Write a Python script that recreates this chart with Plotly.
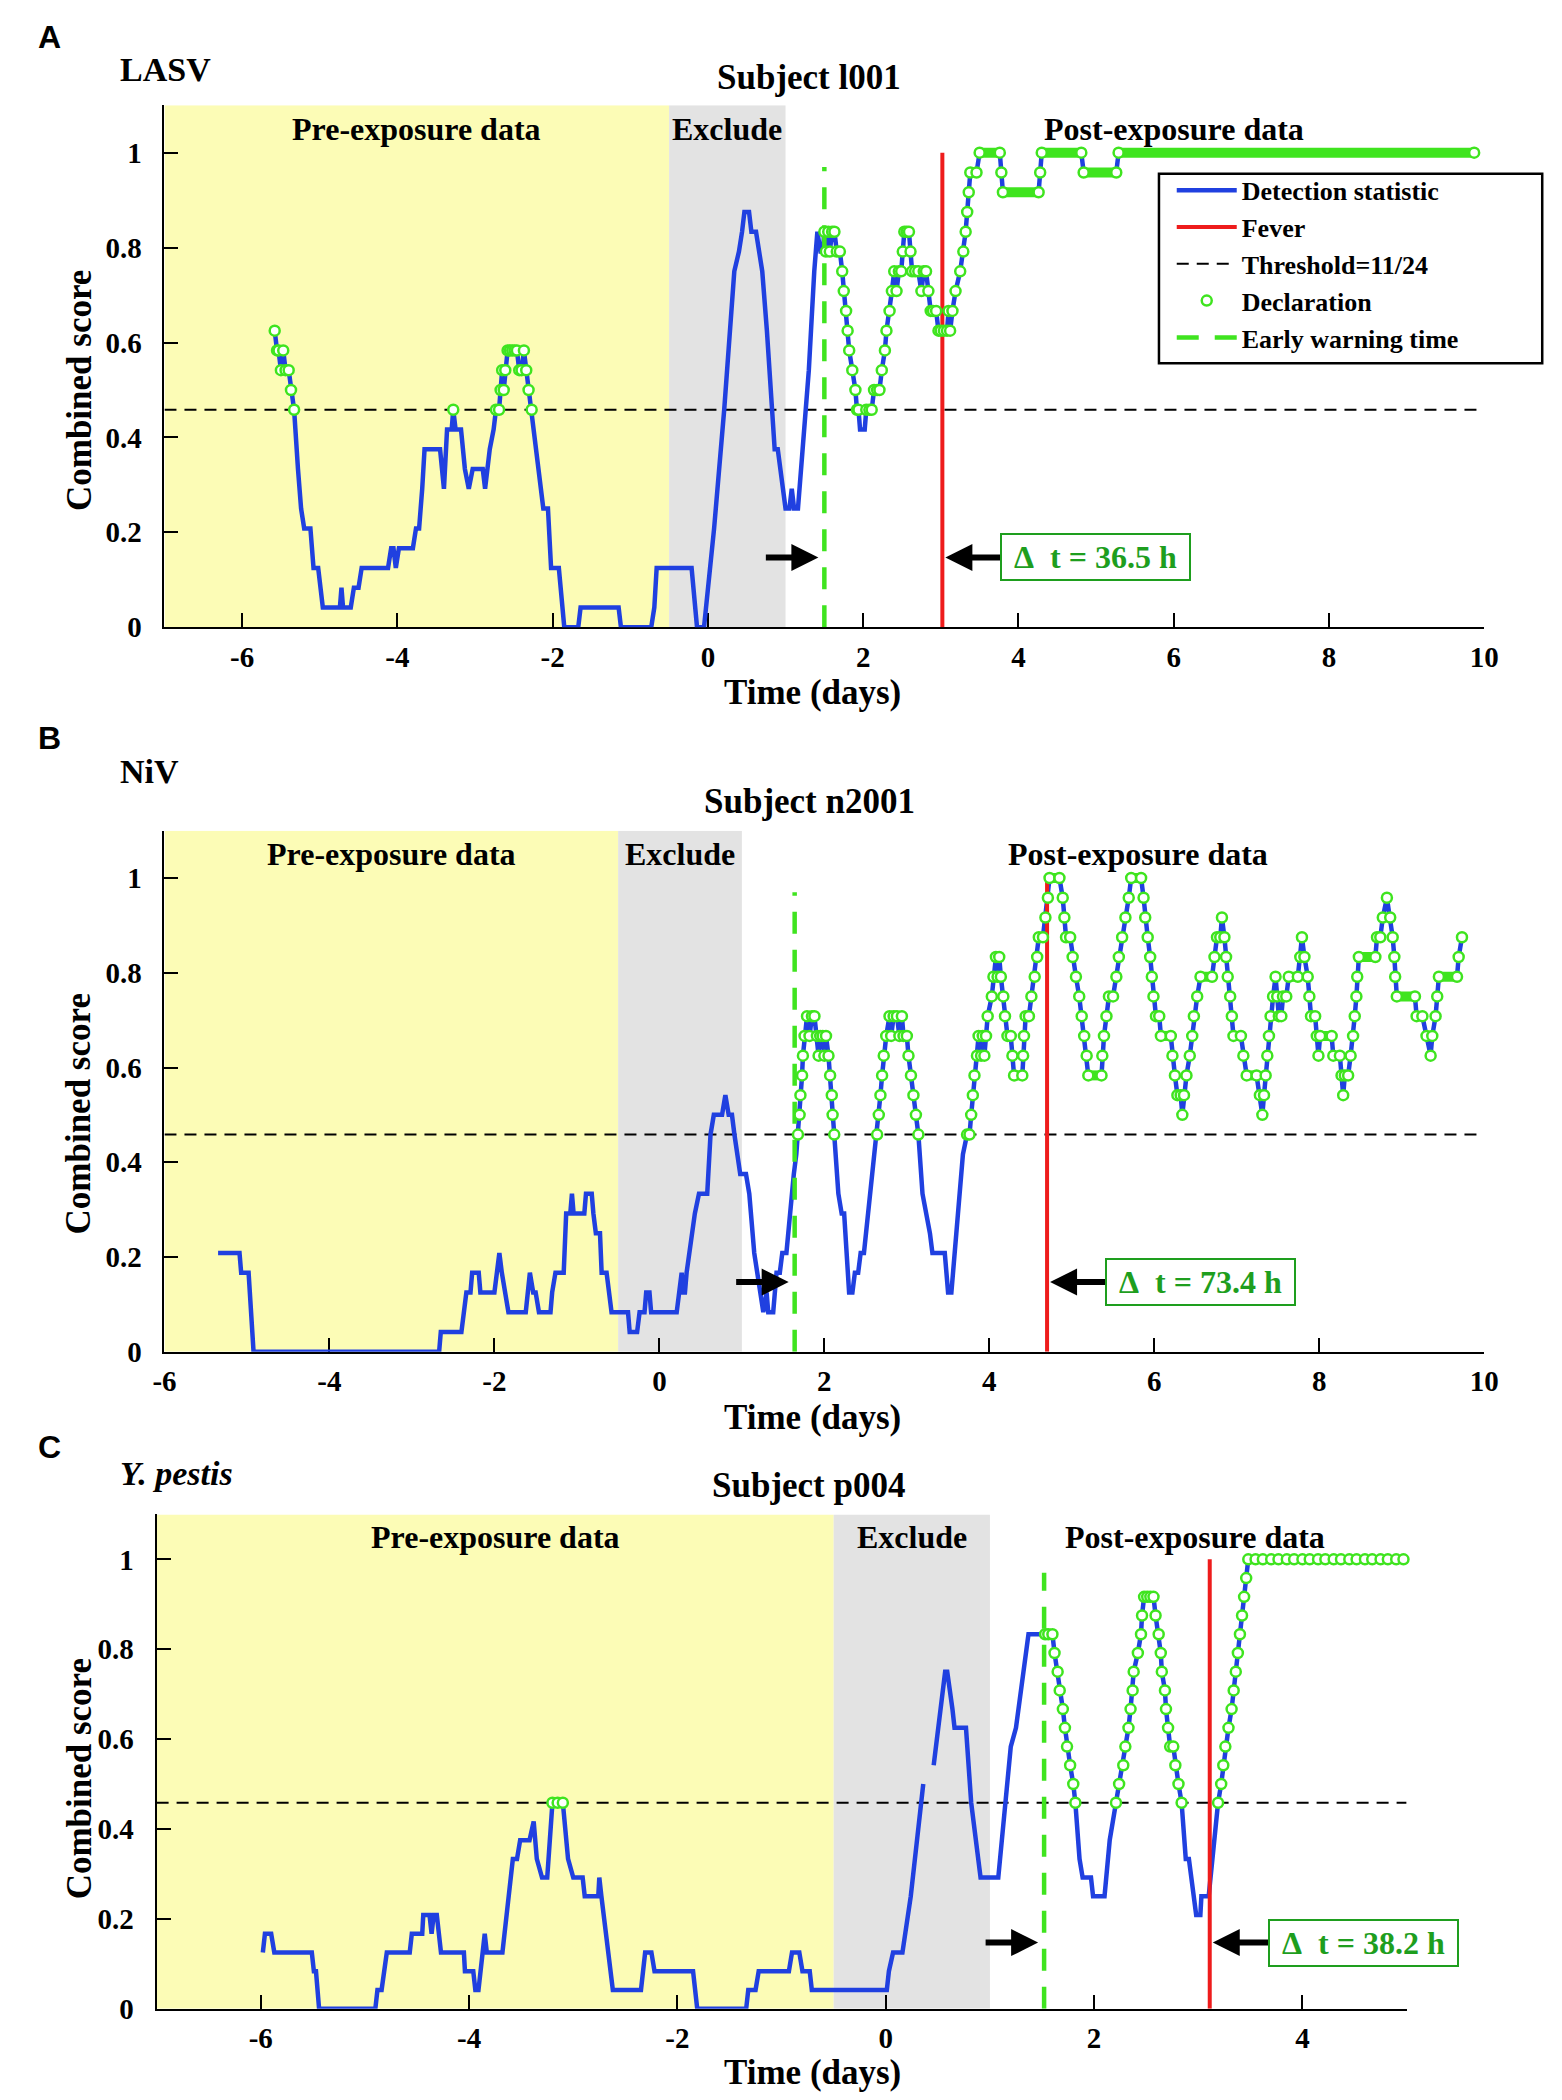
import plotly.graph_objects as go

THRESHOLD_LEVEL = 11  # declaration threshold, in 24ths

# ---- Panel A: LASV, subject l001 (time in days, score in 24ths) ----
a_time = [
    -5.58, -5.55, -5.53, -5.50, -5.47, -5.44, -5.40, -5.37, -5.33, -5.28,
    -5.24, -5.20, -5.12, -5.08, -5.02, -4.96, -4.74, -4.72, -4.70, -4.60,
    -4.56, -4.50, -4.46, -4.12, -4.08, -4.05, -4.02, -3.98, -3.80, -3.76,
    -3.72, -3.68, -3.65, -3.45, -3.40, -3.36, -3.30, -3.28, -3.25, -3.18,
    -3.13, -3.08, -3.03, -2.90, -2.87, -2.84, -2.81, -2.76, -2.73, -2.69,
    -2.67, -2.65, -2.63, -2.61, -2.58, -2.55, -2.52, -2.49, -2.46, -2.43,
    -2.40, -2.37, -2.34, -2.31, -2.27, -2.22, -2.15, -2.12, -2.06, -2.02,
    -1.92, -1.85, -1.67, -1.64, -1.15, -1.12, -0.73, -0.69, -0.66, -0.21,
    -0.14, -0.05, 0.08, 0.21, 0.34, 0.40, 0.44, 0.47, 0.53, 0.56,
    0.62, 0.66, 0.70, 0.76, 0.82, 0.86, 0.90, 0.93, 0.96, 1.00,
    1.05, 1.08, 1.11, 1.16, 1.22, 1.30, 1.37, 1.41, 1.45, 1.48,
    1.50, 1.52, 1.55, 1.57, 1.60, 1.63, 1.66, 1.70, 1.73, 1.75,
    1.78, 1.80, 1.82, 1.86, 1.90, 1.92, 1.94, 1.96, 2.02, 2.04,
    2.08, 2.11, 2.14, 2.18, 2.21, 2.24, 2.28, 2.30, 2.34, 2.37,
    2.40, 2.43, 2.46, 2.49, 2.51, 2.53, 2.56, 2.59, 2.61, 2.63,
    2.67, 2.71, 2.75, 2.78, 2.81, 2.84, 2.87, 2.90, 2.94, 2.97,
    3.00, 3.04, 3.08, 3.10, 3.12, 3.15, 3.19, 3.25, 3.29, 3.32,
    3.34, 3.36, 3.38, 3.46, 3.50, 3.76, 3.78, 3.80, 4.26, 4.28,
    4.30, 4.81, 4.84, 5.26, 5.29, 9.87,
]
a_level = [
    15, 14, 14, 13, 14, 13, 13, 12, 11, 8,
    6, 5, 5, 3, 3, 1, 1, 2, 1, 1,
    2, 2, 3, 3, 4, 4, 3, 4, 4, 5,
    5, 7, 9, 9, 7, 10, 10, 11, 10, 10,
    8, 7, 8, 8, 7, 8, 9, 10, 11, 11,
    12, 13, 12, 13, 14, 14, 14, 14, 14, 13,
    13, 14, 13, 12, 11, 9, 7, 6, 6, 3,
    3, 0, 0, 1, 1, 0, 0, 1, 3, 3,
    0, 0, 5, 11, 18, 19, 20, 21, 21, 20,
    20, 19, 18, 15, 11, 9, 9, 8, 7, 6,
    6, 7, 6, 6, 9, 13, 18, 20, 19, 19,
    20, 19, 20, 19, 20, 20, 19, 19, 18, 17,
    16, 15, 14, 13, 12, 11, 11, 10, 10, 11,
    11, 11, 12, 12, 12, 13, 14, 15, 16, 17,
    18, 17, 18, 18, 19, 20, 20, 20, 19, 18,
    18, 18, 17, 18, 18, 17, 16, 16, 16, 15,
    15, 15, 15, 16, 15, 16, 17, 18, 19, 20,
    21, 22, 23, 23, 24, 24, 23, 22, 22, 23,
    24, 24, 23, 23, 24, 24,
]

# ---- Panel B: NiV, subject n2001 ----
b_time = [
    -5.35, -5.09, -5.07, -4.98, -4.92, -2.67, -2.65, -2.40, -2.37, -2.34,
    -2.29, -2.27, -2.19, -2.17, -2.00, -1.97, -1.94, -1.91, -1.87, -1.83,
    -1.62, -1.60, -1.57, -1.53, -1.50, -1.46, -1.32, -1.30, -1.26, -1.16,
    -1.13, -1.08, -1.06, -1.04, -0.91, -0.89, -0.82, -0.80, -0.77, -0.72,
    -0.70, -0.64, -0.58, -0.38, -0.36, -0.27, -0.24, -0.18, -0.16, -0.12,
    -0.10, 0.21, 0.24, 0.27, 0.29, 0.31, 0.33, 0.36, 0.40, 0.43,
    0.48, 0.58, 0.62, 0.66, 0.76, 0.80, 0.84, 0.88, 0.91, 0.95,
    0.98, 1.05, 1.09, 1.15, 1.22, 1.26, 1.30, 1.32, 1.38, 1.42,
    1.46, 1.49, 1.54, 1.58, 1.63, 1.66,
    1.68, 1.70, 1.71, 1.73, 1.74, 1.76, 1.79, 1.82, 1.85, 1.88,
    1.91, 1.93, 1.95, 1.98, 2.00, 2.02, 2.05, 2.07, 2.09, 2.10,
    2.12, 2.17, 2.21, 2.24, 2.27, 2.30, 2.34, 2.37, 2.41, 2.44,
    2.48, 2.56, 2.64, 2.66, 2.68, 2.70, 2.72, 2.75, 2.79, 2.81,
    2.84, 2.88, 2.91, 2.94, 2.96, 3.00, 3.02, 3.05, 3.08, 3.11,
    3.14, 3.19, 3.24, 3.28, 3.31, 3.46, 3.50, 3.54, 3.60, 3.68,
    3.73, 3.76, 3.78, 3.80, 3.82, 3.85, 3.87, 3.90, 3.92, 3.94,
    3.96, 3.98, 4.03, 4.05, 4.08, 4.10, 4.12, 4.14, 4.17, 4.19,
    4.22, 4.26, 4.28, 4.30, 4.40, 4.41, 4.42, 4.44, 4.48, 4.51,
    4.55, 4.58, 4.60, 4.65, 4.68, 4.71, 4.73, 4.85, 4.89, 4.91,
    4.93, 4.98, 5.01, 5.05, 5.09, 5.12, 5.15, 5.18, 5.20, 5.36,
    5.37, 5.39, 5.42, 5.45, 5.50, 5.54, 5.57, 5.61, 5.65, 5.69,
    5.72, 5.84, 5.87, 5.89, 5.92, 5.95, 5.97, 5.99, 6.02, 6.06,
    6.08, 6.20, 6.22, 6.25, 6.28, 6.32, 6.34, 6.36, 6.39, 6.43,
    6.46, 6.48, 6.52, 6.56, 6.70, 6.73, 6.76, 6.80, 6.82, 6.85,
    6.87, 6.89, 6.92, 6.94, 6.96, 7.05, 7.08, 7.12, 7.24, 7.28,
    7.31, 7.33, 7.35, 7.37, 7.39, 7.41, 7.44, 7.47, 7.49, 7.51,
    7.54, 7.56, 7.60, 7.63, 7.74, 7.77, 7.79, 7.82, 7.86, 7.88,
    7.90, 7.95, 7.97, 7.99, 8.01, 8.15, 8.17, 8.25, 8.27, 8.29,
    8.31, 8.35, 8.38, 8.41, 8.43, 8.45, 8.46, 8.48, 8.68, 8.70,
    8.74, 8.77, 8.82, 8.86, 8.89, 8.91, 8.92, 8.94, 9.16, 9.18,
    9.25, 9.30, 9.35, 9.37, 9.41, 9.43, 9.45, 9.67, 9.69, 9.73,
]
b_level = [
    5, 5, 4, 4, 0, 0, 1, 1, 2, 3,
    3, 4, 4, 3, 3, 4, 5, 4, 3, 2,
    2, 3, 4, 3, 3, 2, 2, 3, 4, 4,
    7, 7, 8, 7, 7, 8, 8, 7, 6, 6,
    4, 4, 2, 2, 1, 1, 2, 2, 3, 3,
    2, 2, 3, 4, 3, 3, 4, 5, 6, 7,
    8, 8, 11, 12, 12, 13, 12, 12, 11, 10,
    9, 9, 8, 5, 3, 2, 3, 2, 2, 4,
    4, 5, 5, 7, 9, 10,
    11, 12, 13, 14, 15, 16, 17, 16, 17, 17,
    16, 15, 16, 16, 15, 16, 15, 14, 13, 12,
    11, 8, 7, 7, 5, 3, 3, 4, 4, 5,
    5, 8, 11, 12, 13, 14, 15, 16, 17, 16,
    17, 17, 16, 17, 16, 16, 15, 14, 13, 12,
    11, 8, 7, 6, 5, 5, 3, 3, 6, 10,
    11, 11, 12, 13, 14, 15, 16, 15, 16, 15,
    16, 17, 18, 19, 20, 19, 20, 19, 18, 17,
    16, 16, 15, 14, 14, 15, 16, 17, 17, 18,
    19, 20, 21, 21, 22, 23, 24, 24, 23, 22,
    21, 21, 20, 19, 18, 17, 16, 15, 14, 14,
    15, 16, 17, 18, 18, 19, 20, 21, 22, 23,
    24, 24, 23, 22, 21, 20, 19, 18, 17, 17,
    16, 16, 15, 14, 13, 13, 12, 13, 14, 15,
    16, 17, 18, 19, 19, 20, 21, 21, 22, 21,
    20, 19, 18, 17, 16, 16, 15, 14, 14, 13,
    12, 13, 14, 15, 16, 17, 18, 19, 18, 17,
    17, 18, 18, 19, 19, 20, 21, 20, 19, 18,
    17, 17, 16, 15, 16, 16, 15, 15, 14, 13,
    14, 14, 15, 16, 17, 18, 19, 20, 20, 21,
    21, 22, 23, 22, 21, 20, 19, 18, 18, 17,
    17, 16, 15, 16, 17, 18, 19, 19, 20, 21,
]

# ---- Panel C: Y. pestis, subject p004 (None = missing data) ----
c_time = [
    -5.98, -5.96, -5.90, -5.87, -5.51, -5.49, -5.47, -5.44, -4.90, -4.88,
    -4.84, -4.79, -4.57, -4.55, -4.45, -4.44, -4.38, -4.36, -4.34, -4.31,
    -4.27, -4.05, -4.04, -3.96, -3.94, -3.91, -3.85, -3.83, -3.68, -3.64,
    -3.58, -3.54, -3.51, -3.42, -3.38, -3.35, -3.30, -3.25, -3.20, -3.15,
    -3.10, -3.05, -3.00, -2.91, -2.89, -2.76, -2.75, -2.73, -2.67, -2.62,
    -2.35, -2.31, -2.25, -2.22, -1.85, -1.81, -1.34, -1.32, -1.25, -1.22,
    -0.93, -0.90, -0.83, -0.80, -0.73, -0.71, 0.01, 0.03, 0.07, 0.16,
    0.24, 0.30, 0.33, 0.36, 0.41, 0.46, 0.52, 0.57, 0.59, 0.62,
    0.64, 0.66, 0.77, 0.82, 0.88, 0.91, 1.08, 1.15, 1.20, 1.25,
    1.37, 1.45, 1.49, 1.53, 1.56, 1.60, 1.62, 1.65, 1.67, 1.70,
    1.72, 1.74, 1.77, 1.80, 1.82, 1.86, 1.89, 1.97, 1.99, 2.10,
    2.15, 2.18, 2.21, 2.24, 2.28, 2.30, 2.33, 2.35, 2.37, 2.38,
    2.42, 2.45, 2.46, 2.48, 2.51, 2.54, 2.57, 2.59, 2.62, 2.64,
    2.65, 2.68, 2.69, 2.71, 2.73, 2.76, 2.78, 2.81, 2.84, 2.88,
    2.91, 2.95, 2.98, 3.02, 3.03, 3.10, 3.15, 3.19, 3.22, 3.24,
    3.26, 3.29, 3.32, 3.34, 3.36, 3.38, 3.40, 3.42, 3.44, 3.46,
    3.48, 3.55, 3.62, 3.70, 3.77, 3.85, 3.92, 4.00, 4.07, 4.15,
    4.22, 4.30, 4.37, 4.45, 4.52, 4.60, 4.67, 4.75, 4.82, 4.90,
    4.97,
]
c_level = [
    3, 4, 4, 3, 3, 2, 2, 0, 0, 1,
    1, 3, 3, 4, 4, 5, 5, 4, 5, 5,
    3, 3, 2, 2, 1, 1, 4, 3, 3, 5,
    8, 8, 9, 9, 10, 8, 7, 7, 11, 11,
    11, 8, 7, 7, 6, 6, 7, 6, 3, 1,
    1, 3, 3, 2, 2, 0, 0, 1, 1, 2,
    2, 3, 3, 2, 2, 1, 1, 2, 3, 3,
    6, 9, 11, 12, None, 13, 16, 18, 18, 17,
    16, 15, 15, 11, 8, 7, 7, 11, 14, 15,
    20, 20, 20, 20, 20, 20, 19, 18, 17, 16,
    15, 14, 13, 12, 11, 8, 7, 7, 6, 6,
    9, 10, 11, 12, 13, 14, 15, 16, 17, 18,
    19, 20, 21, 22, 22, 22, 22, 21, 20, 19,
    18, 17, 16, 15, 14, 14, 13, 12, 11, 8,
    8, 6, 5, 5, 6, 6, 9, 11, 12, 13,
    14, 15, 16, 17, 18, 19, 20, 21, 22, 23,
    24, 24, 24, 24, 24, 24, 24, 24, 24, 24,
    24, 24, 24, 24, 24, 24, 24, 24, 24, 24,
    24,
]

# ---- per-panel annotations ----
letters = ["A", "B", "C"]
agents = ["<b>LASV</b>", "<b>NiV</b>", "<b><i>Y. pestis</i></b>"]
subjects = ["Subject l001", "Subject n2001", "Subject p004"]
fever_day = [3.02, 4.70, 3.11]
warning_day = [1.50, 1.64, 1.52]
delta_hours = ["36.5", "73.4", "38.2"]
x_ranges = [(-7, 10), (-6, 10), (-7, 5)]
x_ticks = [[-6, -4, -2, 0, 2, 4, 6, 8, 10], [-6, -4, -2, 0, 2, 4, 6, 8, 10], [-6, -4, -2, 0, 2, 4]]
y_ticks = [0, 0.2, 0.4, 0.6, 0.8, 1]
y_tick_text = ["0", "0.2", "0.4", "0.6", "0.8", "1"]
exclude_window = (-0.5, 1.0)
post_label_x = [6.0, 5.8, 2.97]
solid_runs = [True, True, False]

times = [a_time, b_time, c_time]
levels = [a_level, b_level, c_level]

# ---- layout geometry (pixels) ----
W, H = 1562, 2100
plot_px = [(147, 1490, 98, 624), (147, 1490, 829, 1354), (139, 1411, 1518, 2016)]
letter_y = [29, 736, 1450]
agent_y = [62, 769, 1477]
title_y = [70, 800, 1489]
xlabel_y = [690, 1420, 2080]
ylabel_y = [385, 1114, 1784]
legend_box = (1159, 1549, 167, 358)

SERIF = "Liberation Serif, Times New Roman, serif"
SANS = "Liberation Sans, Arial, sans-serif"
BLUE = "#2040e0"
GREEN = "#3fe41f"
DARK_GREEN = "#1e9e1e"
RED = "#ee1c1c"
YELLOW = "#fcfcb6"
GREY = "#e3e3e3"
NB = "\u00a0"

fig = go.Figure()
annotations = []
shapes = []


def paper_text(text, x, y, size, family=SERIF, xanchor="center", angle=0):
    return dict(text=text, x=x / W, y=1 - y / H, xref="paper", yref="paper",
                showarrow=False, xanchor=xanchor, yanchor="middle", textangle=angle,
                font=dict(family=family, size=size, color="black"))


for i in range(3):
    k = "" if i == 0 else str(i + 1)
    xa, ya = "x" + k, "y" + k
    first = i == 0
    t, lv = times[i], levels[i]
    score = [None if v is None else v / 24 for v in lv]
    xr = x_ranges[i]
    warn, fever = warning_day[i], fever_day[i]

    # threshold
    fig.add_trace(go.Scatter(
        x=list(xr), y=[THRESHOLD_LEVEL / 24] * 2, mode="lines",
        line=dict(color="black", width=2, dash="12px,8px"),
        name="Threshold=11/24", legendrank=3, showlegend=first,
        xaxis=xa, yaxis=ya, hoverinfo="skip"))
    # detection statistic
    fig.add_trace(go.Scatter(
        x=t, y=score, mode="lines", connectgaps=False,
        line=dict(color=BLUE, width=4.5),
        name="Detection statistic", legendrank=1, showlegend=first,
        xaxis=xa, yaxis=ya))
    # fever onset
    fig.add_trace(go.Scatter(
        x=[fever, fever], y=[0, 1], mode="lines",
        line=dict(color=RED, width=4),
        name="Fever", legendrank=2, showlegend=first,
        xaxis=xa, yaxis=ya, hoverinfo="skip"))
    # early warning
    fig.add_trace(go.Scatter(
        x=[warn, warn], y=[0, 0.97], mode="lines",
        line=dict(color=GREEN, width=4.5, dash="22px,16px"),
        name="Early warning time", legendrank=5, showlegend=first,
        xaxis=xa, yaxis=ya, hoverinfo="skip"))

    # declarations: above threshold, outside the excluded stretch
    declared = []
    for j, v in enumerate(lv):
        if v is None or v < THRESHOLD_LEVEL:
            continue
        if exclude_window[0] <= t[j] < warn - 0.015:
            continue
        declared.append(j)

    if solid_runs[i]:
        bx, by = [], []
        dset = set(declared)
        for j in declared:
            if j + 1 in dset and lv[j + 1] == lv[j]:
                bx += [t[j], t[j + 1], None]
                by += [score[j], score[j + 1], None]
        fig.add_trace(go.Scatter(
            x=bx, y=by, mode="lines", line=dict(color=GREEN, width=10),
            showlegend=False, xaxis=xa, yaxis=ya, hoverinfo="skip"))

    fig.add_trace(go.Scatter(
        x=[t[j] for j in declared], y=[score[j] for j in declared],
        mode="markers", cliponaxis=False,
        marker=dict(symbol="circle", size=10, color="white",
                    line=dict(color=GREEN, width=2.5)),
        name="Declaration", legendrank=4, showlegend=first,
        xaxis=xa, yaxis=ya))

    x0, x1, y0, y1 = plot_px[i]
    tick_font = dict(family=SERIF, size=29, color="black", weight="bold")
    fig.layout["xaxis" + k] = dict(
        domain=[x0 / W, x1 / W], range=list(xr), anchor=ya,
        tickvals=x_ticks[i], ticktext=[str(v) for v in x_ticks[i]],
        ticks="inside", ticklen=14, tickwidth=2, tickcolor="black",
        showline=True, linecolor="black", linewidth=2,
        showgrid=False, zeroline=False, tickfont=tick_font,
        ticklabelstandoff=3, layer="below traces")
    fig.layout["yaxis" + k] = dict(
        domain=[1 - y1 / H, 1 - y0 / H], range=[0, 1.1], anchor=xa,
        tickvals=y_ticks, ticktext=y_tick_text,
        ticks="inside", ticklen=14, tickwidth=2, tickcolor="black",
        showline=True, linecolor="black", linewidth=2,
        showgrid=False, zeroline=False, tickfont=tick_font,
        ticklabelstandoff=15, layer="below traces")

    # shaded periods
    shapes.append(dict(type="rect", xref=xa, yref=ya, x0=xr[0], x1=exclude_window[0],
                       y0=0, y1=1.1, fillcolor=YELLOW, line=dict(width=0), layer="below"))
    shapes.append(dict(type="rect", xref=xa, yref=ya, x0=exclude_window[0],
                       x1=exclude_window[1], y0=0, y1=1.1, fillcolor=GREY,
                       line=dict(width=0), layer="below"))

    region_font = dict(family=SERIF, size=32, color="black")
    for label, lx in [("Pre-exposure data", (xr[0] + exclude_window[0]) / 2),
                      ("Exclude", sum(exclude_window) / 2),
                      ("Post-exposure data", post_label_x[i])]:
        annotations.append(dict(text="<b>%s</b>" % label, x=lx, y=1.05, xref=xa, yref=ya,
                                showarrow=False, yanchor="middle", font=region_font))

    # early warning gain
    annotations.append(dict(text="", x=warn, y=0.147, xref=xa, yref=ya,
                            ax=-60, ay=0, showarrow=True, arrowhead=2, arrowsize=0.9,
                            arrowwidth=6, arrowcolor="black", standoff=6))
    annotations.append(dict(text="", x=fever, y=0.147, xref=xa, yref=ya,
                            ax=60, ay=0, showarrow=True, arrowhead=2, arrowsize=0.9,
                            arrowwidth=6, arrowcolor="black", standoff=3))
    annotations.append(dict(text="<b>%s\u0394%s t = %s h%s</b>" % (NB, NB, delta_hours[i], NB),
                            x=fever, y=0.147, xref=xa, yref=ya, xshift=58,
                            xanchor="left", yanchor="middle", showarrow=False,
                            bordercolor=DARK_GREEN, borderwidth=2, borderpad=4,
                            bgcolor="white",
                            font=dict(family=SERIF, size=32, color=DARK_GREEN)))

    annotations.append(paper_text("<b>%s</b>" % letters[i], 16, letter_y[i], 32,
                                  family=SANS, xanchor="left"))
    annotations.append(paper_text(agents[i], 100, agent_y[i], 34, xanchor="left"))
    annotations.append(paper_text("<b>%s</b>" % subjects[i], 803, title_y[i], 35))
    annotations.append(paper_text("<b>Time (days)</b>", 806, xlabel_y[i], 35))
    annotations.append(paper_text("<b>Combined score</b>", 60, ylabel_y[i], 35, angle=-90))

# legend frame (the reference box is wider than its entries)
lx0, lx1, ly0, ly1 = legend_box
shapes.append(dict(type="rect", xref="paper", yref="paper",
                   x0=lx0 / W, x1=lx1 / W, y0=1 - ly1 / H, y1=1 - ly0 / H,
                   fillcolor="white", line=dict(color="black", width=2.5), layer="above"))

fig.update_layout(
    width=W, height=H,
    margin=dict(l=0, r=0, t=0, b=0),
    paper_bgcolor="white", plot_bgcolor="white",
    shapes=shapes, annotations=annotations,
    legend=dict(x=1172 / W, y=1 - 160 / H, xanchor="left", yanchor="top",
                borderwidth=0, bgcolor="rgba(0,0,0,0)",
                itemwidth=60, traceorder="normal",
                font=dict(family=SERIF, size=26, color="black", weight="bold")),
)

fig.write_html("out.html")
